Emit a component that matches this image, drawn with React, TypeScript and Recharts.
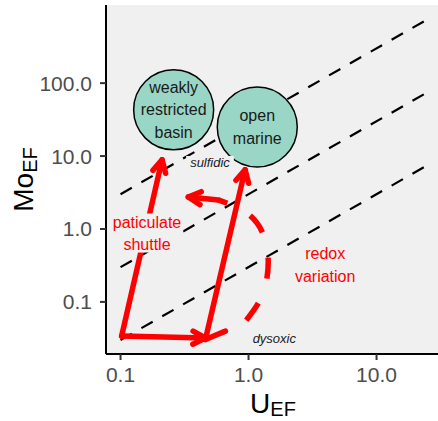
import { CartesianGrid, ComposedChart, Line, ReferenceLine, Scatter, XAxis, YAxis } from 'recharts';

// Mo/U reference lines (endpoints, U_EF and Mo_EF)
const refLineU = [0.1, 24];
const refLineMoUpper = [3, 720];
const refLineMoMiddle = [0.3, 72];
const refLineMoLower = [0.03, 7.2];

// depositional settings (circles)
const settingNames = [['weakly', 'restricted', 'basin'], ['open', 'marine']];
const settingU = [0.26, 1.17];
const settingMo = [43, 25];

// italic zone labels
const zoneNames = ['sulfidic', 'dysoxic'];
const zoneU = [0.5, 1.59];
const zoneMo = [8.1, 0.0315];

// red process labels
const processNames = [['paticulate', 'shuttle'], ['redox', 'variation']];
const processU = [0.161, 3.97];
const processMo = [0.88, 0.323];

// red solid arrows
const arrowFromU = [0.102, 0.102, 0.46];
const arrowFromMo = [0.034, 0.034, 0.0305];
const arrowToU = [0.211, 0.46, 0.94];
const arrowToMo = [8.9, 0.032, 6.5];

// short barb at the foot of the open-marine arrow
const barbU = [0.46, 0.66];
const barbMo = [0.0305, 0.0397];

// redox variation dashed curve + its head
const redoxU = [0.96, 1.28, 1.425, 1.28, 0.942, 0.58];
const redoxMo = [0.056, 0.124, 0.352, 0.909, 1.712, 2.5];
const redoxHeadU = [0.58, 0.338];
const redoxHeadMo = [2.5, 2.75];

const xTicks = [0.1, 1, 10];
const yTicks = [0.1, 1, 10, 100];

const FONT = '"Liberation Sans", Arial, Helvetica, sans-serif';
const RED = '#FF0000';
const PANEL = '#F0F0F0';

const refLines = [refLineMoUpper, refLineMoMiddle, refLineMoLower].map((mo) =>
    refLineU.map((u, i) => ({ x: u, y: mo[i] })),
);
const settings = settingU.map((u, i) => ({ x: u, y: settingMo[i], lines: settingNames[i] }));
const zones = zoneU.map((u, i) => ({ x: u, y: zoneMo[i], lines: [zoneNames[i]] }));
const processes = processU.map((u, i) => ({ x: u, y: processMo[i], lines: processNames[i] }));
const redoxCurve = redoxU.map((u, i) => ({ x: u, y: redoxMo[i] }));

const fmt = (v: number) => v.toFixed(1);

const arrowShape = (head: boolean) => (props: any) => {
    const { x1, y1, x2, y2 } = props;
    const a = Math.atan2(y2 - y1, x2 - x1);
    const len = 14;
    const spread = Math.PI / 6.5;
    const p1 = `${x2 - len * Math.cos(a - spread)},${y2 - len * Math.sin(a - spread)}`;
    const p2 = `${x2 - len * Math.cos(a + spread)},${y2 - len * Math.sin(a + spread)}`;
    return (
        <g>
            <line x1={x1} y1={y1} x2={x2} y2={y2} stroke={RED} strokeWidth={5.5} strokeLinecap="round" />
            {head && (
                <polyline
                    points={`${p1} ${x2},${y2} ${p2}`}
                    fill="none"
                    stroke={RED}
                    strokeWidth={5.5}
                    strokeLinecap="round"
                    strokeLinejoin="round"
                />
            )}
        </g>
    );
};

const SettingShape = (p: any) => {
    const { cx, cy, payload } = p;
    const lines: string[] = payload.lines;
    return (
        <g>
            <circle cx={cx} cy={cy} r={40} fill="#99D6C6" stroke="#000" strokeWidth={1.5} />
            <text textAnchor="middle" fontSize={16} fill="#1A1A1A" fontFamily={FONT}>
                {lines.map((l, i) => (
                    <tspan key={i} x={cx} y={cy + (i - (lines.length - 1) / 2) * 22.5 + 5.5}>
                        {l}
                    </tspan>
                ))}
            </text>
        </g>
    );
};

const textShape = (color: string, size: number, italic: boolean) => (p: any) => {
    const { cx, cy, payload } = p;
    const lines: string[] = payload.lines;
    const maxLen = Math.max(...lines.map((l) => l.length));
    const w = maxLen * size * 0.44 + 2;
    const h = (lines.length - 1) * 22.5 + size + 0.5;
    return (
        <g>
            <rect x={cx - w / 2} y={cy - h / 2} width={w} height={h} fill={PANEL} />
            <text
                textAnchor="middle"
                fontSize={size}
                fill={color}
                fontStyle={italic ? 'italic' : 'normal'}
                fontFamily={FONT}
            >
                {lines.map((l, i) => (
                    <tspan key={i} x={cx} y={cy + (i - (lines.length - 1) / 2) * 22.5 + size * 0.36}>
                        {l}
                    </tspan>
                ))}
            </text>
        </g>
    );
};

const XTitle = (p: any) => {
    const vb = p.viewBox || { x: 106, y: 354, width: 332, height: 67 };
    return (
        <text x={vb.x + vb.width / 2 + 1} y={vb.y + 58.5} textAnchor="middle" fontFamily={FONT} fill="#000">
            <tspan fontSize={28}>U</tspan>
            <tspan fontSize={20} dy={3}>EF</tspan>
        </text>
    );
};

const YTitle = (p: any) => {
    const vb = p.viewBox || { x: 0, y: 5, width: 106, height: 349 };
    const cx = 33;
    const cy = vb.y + vb.height / 2;
    return (
        <text
            x={cx}
            y={cy}
            textAnchor="middle"
            fontFamily={FONT}
            fill="#000"
            transform={`rotate(-90, ${cx}, ${cy})`}
        >
            <tspan fontSize={28}>Mo</tspan>
            <tspan fontSize={20} dy={4}>EF</tspan>
        </text>
    );
};

export default function App() {
    return (
        <div style={{ position: 'absolute', left: 0, top: 0 }}>
            <ComposedChart width={438} height={421} margin={{ top: 5, right: 0, bottom: 0, left: 0 }}>
                <CartesianGrid horizontal={false} vertical={false} fill={PANEL} stroke="none" />
                <XAxis
                    type="number"
                    dataKey="x"
                    scale="log"
                    domain={[0.077, 30.2]}
                    allowDataOverflow
                    ticks={xTicks}
                    tickFormatter={fmt}
                    height={67}
                    tickSize={6}
                    tickMargin={7}
                    axisLine={{ stroke: '#000', strokeWidth: 2 }}
                    tickLine={{ stroke: '#333', strokeWidth: 2 }}
                    tick={{ fill: '#4D4D4D', fontSize: 21, fontFamily: FONT }}
                    label={(p: any) => <XTitle {...p} />}
                />
                <YAxis
                    type="number"
                    dataKey="y"
                    scale="log"
                    domain={[0.0193, 1179]}
                    allowDataOverflow
                    ticks={yTicks}
                    tickFormatter={fmt}
                    width={106}
                    tickSize={6}
                    tickMargin={8}
                    axisLine={{ stroke: '#000', strokeWidth: 2 }}
                    tickLine={{ stroke: '#333', strokeWidth: 2 }}
                    tick={{ fill: '#4D4D4D', fontSize: 21, fontFamily: FONT }}
                    label={(p: any) => <YTitle {...p} />}
                />
                {refLines.map((d, i) => (
                    <Line
                        key={i}
                        data={d}
                        dataKey="y"
                        type="linear"
                        stroke="#000"
                        strokeWidth={2.2}
                        strokeDasharray="13 11"
                        dot={false}
                        activeDot={false}
                        isAnimationActive={false}
                    />
                ))}
                <Line
                    data={redoxCurve}
                    dataKey="y"
                    type="natural"
                    stroke={RED}
                    strokeWidth={5.5}
                    strokeDasharray="21 26"
                    dot={false}
                    activeDot={false}
                    isAnimationActive={false}
                />
                {arrowFromU.map((u, i) => (
                    <ReferenceLine
                        key={i}
                        segment={[
                            { x: u, y: arrowFromMo[i] },
                            { x: arrowToU[i], y: arrowToMo[i] },
                        ]}
                        shape={arrowShape(true)}
                    />
                ))}
                <ReferenceLine
                    segment={[
                        { x: barbU[0], y: barbMo[0] },
                        { x: barbU[1], y: barbMo[1] },
                    ]}
                    shape={arrowShape(false)}
                />
                <ReferenceLine
                    segment={[
                        { x: redoxHeadU[0], y: redoxHeadMo[0] },
                        { x: redoxHeadU[1], y: redoxHeadMo[1] },
                    ]}
                    shape={arrowShape(true)}
                />
                <Scatter data={settings} dataKey="y" shape={SettingShape} isAnimationActive={false} />
                <Scatter data={zones} dataKey="y" shape={textShape('#1A1A1A', 13, true)} isAnimationActive={false} />
                <Scatter data={processes} dataKey="y" shape={textShape(RED, 16, false)} isAnimationActive={false} />
            </ComposedChart>
        </div>
    );
}
